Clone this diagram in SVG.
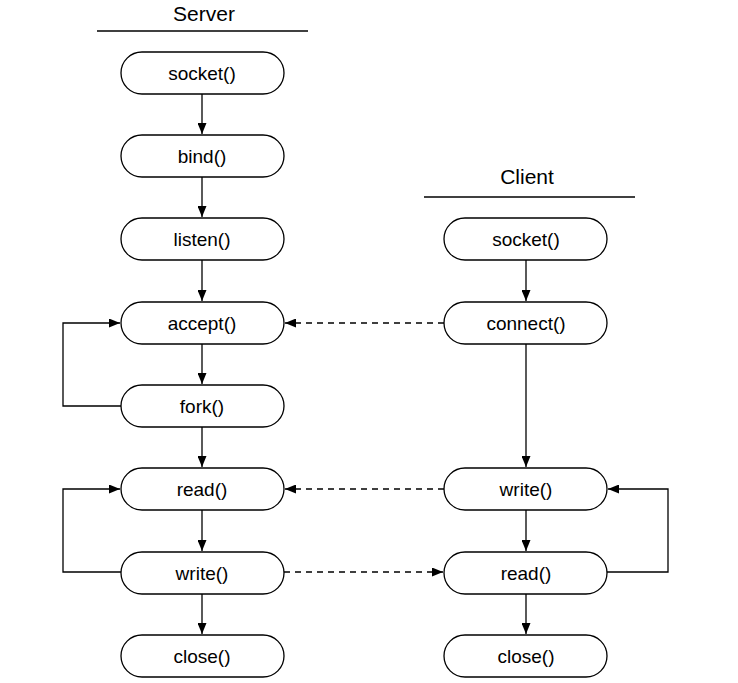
<svg xmlns="http://www.w3.org/2000/svg" width="738" height="683" viewBox="0 0 738 683">
<style>
.n rect{fill:#fff;stroke:#000;stroke-width:1.3}
.n text,.t{font-family:"Liberation Sans",Arial,sans-serif;font-size:19px;fill:#000;text-anchor:middle;dominant-baseline:central}
.t{font-size:21px}
.c path{fill:none;stroke:#000;stroke-width:1.3}
.c .d{stroke-dasharray:6 5}
</style>
<defs>
<marker id="a" viewBox="0 0 11 9" refX="11" refY="4.5" markerWidth="11" markerHeight="9" markerUnits="userSpaceOnUse" orient="auto"><path d="M0,0L11,4.5L0,9z" fill="#000"/></marker>
</defs>
<g id="titles">
<text class="t" x="204" y="13">Server</text>
<path d="M97,31H308" stroke="#000" stroke-width="1.3"/>
<text class="t" x="527" y="176">Client</text>
<path d="M424,197H635" stroke="#000" stroke-width="1.3"/>
</g>
<g class="c" id="connectors">
<path d="M202,94V134" marker-end="url(#a)"/>
<path d="M202,177V217" marker-end="url(#a)"/>
<path d="M202,260V301" marker-end="url(#a)"/>
<path d="M202,344V384" marker-end="url(#a)"/>
<path d="M202,427V467" marker-end="url(#a)"/>
<path d="M202,510V551" marker-end="url(#a)"/>
<path d="M202,594V634" marker-end="url(#a)"/>
<path d="M121,406H63V323H120" marker-end="url(#a)"/>
<path d="M121,572H63V489H120" marker-end="url(#a)"/>
<path d="M526,260V301" marker-end="url(#a)"/>
<path d="M526,344V467" marker-end="url(#a)"/>
<path d="M526,510V551" marker-end="url(#a)"/>
<path d="M526,594V634" marker-end="url(#a)"/>
<path d="M607,572H668V489H608" marker-end="url(#a)"/>
<path class="d" d="M444,323H285" marker-end="url(#a)"/>
<path class="d" d="M444,489H285" marker-end="url(#a)"/>
<path class="d" d="M284,572H443" marker-end="url(#a)"/>
</g>
<g class="n" id="s-socket"><rect x="121" y="52" width="163" height="42" rx="21"/><text x="202" y="73">socket()</text></g>
<g class="n" id="s-bind"><rect x="121" y="135" width="163" height="42" rx="21"/><text x="202" y="156">bind()</text></g>
<g class="n" id="s-listen"><rect x="121" y="218" width="163" height="42" rx="21"/><text x="202" y="239">listen()</text></g>
<g class="n" id="s-accept"><rect x="121" y="302" width="163" height="42" rx="21"/><text x="202" y="323">accept()</text></g>
<g class="n" id="s-fork"><rect x="121" y="385" width="163" height="42" rx="21"/><text x="202" y="406">fork()</text></g>
<g class="n" id="s-read"><rect x="121" y="468" width="163" height="42" rx="21"/><text x="202" y="489">read()</text></g>
<g class="n" id="s-write"><rect x="121" y="552" width="163" height="42" rx="21"/><text x="202" y="573">write()</text></g>
<g class="n" id="s-close"><rect x="121" y="635" width="163" height="42" rx="21"/><text x="202" y="656">close()</text></g>
<g class="n" id="c-socket"><rect x="444" y="218" width="163" height="42" rx="21"/><text x="526" y="239">socket()</text></g>
<g class="n" id="c-connect"><rect x="444" y="302" width="163" height="42" rx="21"/><text x="526" y="323">connect()</text></g>
<g class="n" id="c-write"><rect x="444" y="468" width="163" height="42" rx="21"/><text x="526" y="489">write()</text></g>
<g class="n" id="c-read"><rect x="444" y="552" width="163" height="42" rx="21"/><text x="526" y="573">read()</text></g>
<g class="n" id="c-close"><rect x="444" y="635" width="163" height="42" rx="21"/><text x="526" y="656">close()</text></g>
</svg>
